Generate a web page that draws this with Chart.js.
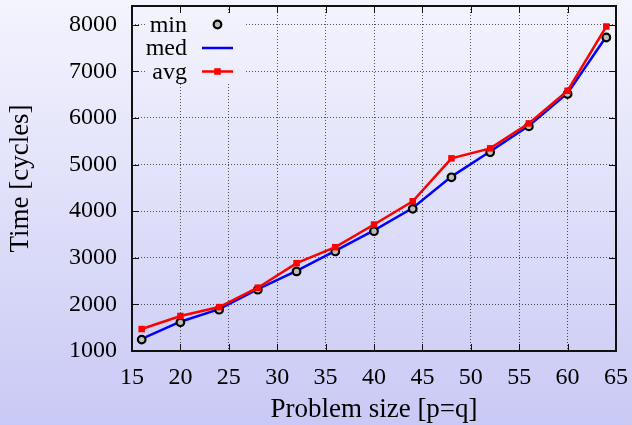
<!DOCTYPE html>
<html>
<head>
<meta charset="utf-8">
<script src="https://cdn.jsdelivr.net/npm/chart.js@4"></script>
<style>
  html, body { margin: 0; padding: 0; }
  body {
    width: 632px;
    height: 425px;
    background: linear-gradient(to bottom, #f4f4fe 0%, #c9c9f5 100%);
  }
  canvas { display: block; }
</style>
</head>
<body>
<canvas id="chart" width="632" height="425"></canvas>
<script>
// ── Data ────────────────────────────────────────────────────

const problemSizes = [16, 20, 24, 28, 32, 36, 40, 44, 48, 52, 56, 60, 64];
const minTimes = [1244, 1615, 1886, 2315, 2707, 3135, 3570, 4049, 4726, 5261, 5818, 6512, 7724];
const medTimes = [1258, 1628, 1898, 2328, 2720, 3148, 3588, 4066, 4740, 5278, 5834, 6528, 7745];
const avgTimes = [1471, 1750, 1942, 2357, 2884, 3227, 3713, 4212, 5133, 5347, 5882, 6582, 7960];

const xTicks = [15, 20, 25, 30, 35, 40, 45, 50, 55, 60, 65];
const yTicks = [1000, 2000, 3000, 4000, 5000, 6000, 7000, 8000];

const FONT = "'Liberation Serif', 'DejaVu Serif', serif";

function toPoints(values) {
  return problemSizes.map((x, i) => ({ x, y: values[i] }));
}

// ── Plugins ─────────────────────────────────────────────────

// gnuplot style: opaque key box, closed frame, inward ticks on all sides
const gnuplotFrame = {
  id: "gnuplotFrame",
  beforeDatasetsDraw(chart) {
    const { ctx, chartArea } = chart;
    // key area hides the grid underneath
    ctx.clearRect(chartArea.left + 13, chartArea.top + 7, 101, 71);
  },
  afterDraw(chart) {
    const { ctx, chartArea: a, scales } = chart;
    ctx.save();
    ctx.strokeStyle = "#111";
    ctx.lineWidth = 1;
    const len = 7;
    ctx.beginPath();
    scales.x.ticks.forEach((t) => {
      const px = Math.round(scales.x.getPixelForValue(t.value)) + 0.5;
      ctx.moveTo(px, a.bottom);
      ctx.lineTo(px, a.bottom - len);
      ctx.moveTo(px, a.top);
      ctx.lineTo(px, a.top + len);
    });
    scales.y.ticks.forEach((t) => {
      const py = Math.round(scales.y.getPixelForValue(t.value)) + 0.5;
      ctx.moveTo(a.left, py);
      ctx.lineTo(a.left + len, py);
      ctx.moveTo(a.right, py);
      ctx.lineTo(a.right - len, py);
    });
    ctx.stroke();

    ctx.lineWidth = 2;
    ctx.strokeRect(a.left, a.top, a.right - a.left, a.bottom - a.top);

    // key
    ctx.font = "24px " + FONT;
    ctx.textAlign = "right";
    ctx.textBaseline = "middle";
    const textRight = a.left + 55;
    const sx0 = a.left + 70;
    const sx1 = a.left + 101;
    chart.data.datasets.forEach((ds, i) => {
      const y = a.top + 18.5 + i * 23.5;
      ctx.fillStyle = "#000";
      ctx.fillText(ds.label, textRight, y + 1);
      if (ds.showLine !== false) {
        ctx.strokeStyle = ds.borderColor;
        ctx.lineWidth = ds.borderWidth;
        ctx.beginPath();
        ctx.moveTo(sx0, y);
        ctx.lineTo(sx1, y);
        ctx.stroke();
      }
      if (ds.pointRadius > 0) {
        const cx = (sx0 + sx1) / 2;
        if (ds.pointStyle === "rect") {
          const s = ds.pointRadius * Math.SQRT1_2;
          ctx.fillStyle = ds.pointBackgroundColor;
          ctx.fillRect(cx - s, y - s, 2 * s, 2 * s);
        } else {
          ctx.beginPath();
          ctx.arc(cx, y, ds.pointRadius, 0, Math.PI * 2);
          ctx.fillStyle = ds.pointBackgroundColor;
          ctx.fill();
          ctx.lineWidth = ds.pointBorderWidth;
          ctx.strokeStyle = ds.pointBorderColor;
          ctx.stroke();
        }
      }
    });
    ctx.restore();
  },
};

// ── Chart ───────────────────────────────────────────────────

new Chart(document.getElementById("chart"), {
  type: "line",
  data: {
    datasets: [
      {
        label: "min",
        data: toPoints(minTimes),
        showLine: false,
        pointStyle: "circle",
        pointRadius: 3.8,
        pointBorderWidth: 2.2,
        pointBorderColor: "#000",
        pointBackgroundColor: "#bbb",
        borderColor: "#000",
        order: 1,
      },
      {
        label: "med",
        data: toPoints(medTimes),
        borderColor: "#0000ff",
        borderWidth: 2.5,
        pointRadius: 0,
        tension: 0,
        order: 2,
      },
      {
        label: "avg",
        data: toPoints(avgTimes),
        borderColor: "#ff0000",
        borderWidth: 2.5,
        pointStyle: "rect",
        pointRadius: 4.6,
        pointBorderWidth: 0,
        pointBackgroundColor: "#ff0000",
        pointBorderColor: "#ff0000",
        tension: 0,
        order: 0,
      },
    ],
  },
  options: {
    responsive: false,
    animation: false,
    devicePixelRatio: 1,
    layout: { autoPadding: false, padding: { top: 6, right: 16, left: 0, bottom: 0 } },
    plugins: {
      legend: { display: false },
      tooltip: { enabled: false },
    },
    scales: {
      x: {
        type: "linear",
        min: 15,
        max: 65,
        afterFit: (s) => {
          s.height = 74;
          s.paddingLeft = 0;
          s.paddingRight = 0;
        },
        afterBuildTicks: (s) => { s.ticks = xTicks.map((value) => ({ value })); },
        ticks: {
          padding: 12,
          color: "#000",
          font: { family: FONT, size: 24 },
          maxRotation: 0,
          autoSkip: false,
          callback: (v) => String(v),
        },
        grid: { color: "rgba(0,0,0,0.65)", lineWidth: 1, drawTicks: false },
        border: { display: false, dash: [1, 2] },
        title: {
          display: true,
          text: "Problem size [p=q]",
          color: "#000",
          font: { family: FONT, size: 27 },
          padding: { top: 0, bottom: -1 },
        },
      },
      y: {
        type: "linear",
        min: 1000,
        max: 8400,
        afterFit: (s) => {
          s.width = 132;
          s.paddingTop = 0;
          s.paddingBottom = 0;
        },
        afterBuildTicks: (s) => { s.ticks = yTicks.map((value) => ({ value })); },
        ticks: {
          padding: 15,
          color: "#000",
          font: { family: FONT, size: 24 },
          autoSkip: false,
          callback: (v) => String(v),
        },
        grid: { color: "rgba(0,0,0,0.65)", lineWidth: 1, drawTicks: false },
        border: { display: false, dash: [1, 2] },
        title: {
          display: true,
          text: "Time [cycles]",
          color: "#000",
          font: { family: FONT, size: 27 },
          padding: { top: 5, bottom: 0 },
        },
      },
    },
  },
  plugins: [gnuplotFrame],
});
</script>
</body>
</html>
